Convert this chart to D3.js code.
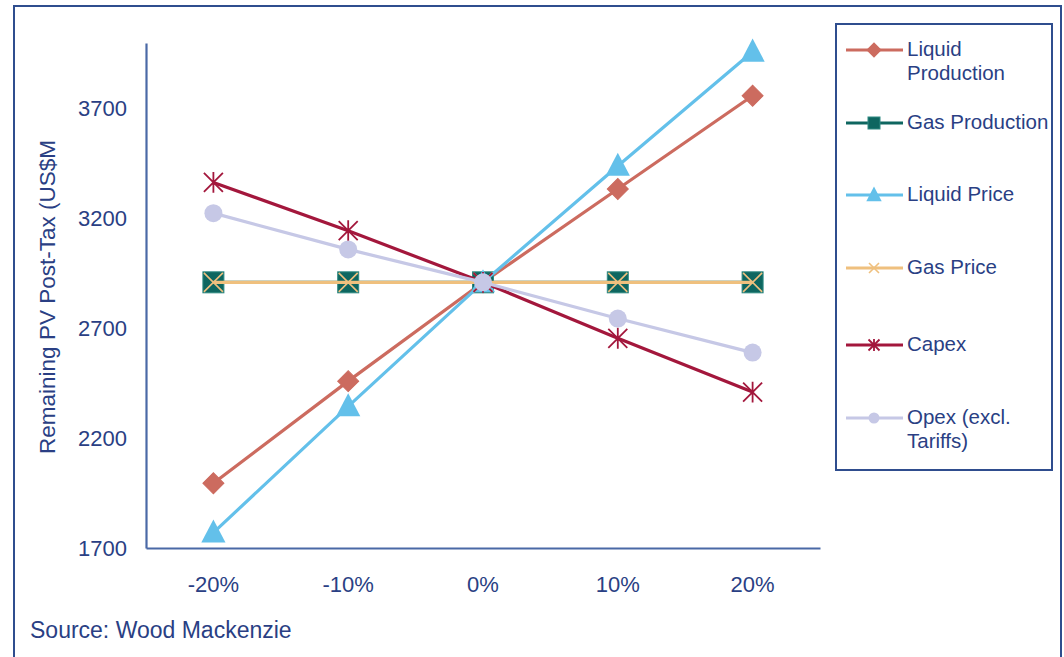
<!DOCTYPE html>
<html>
<head>
<meta charset="utf-8">
<script src="https://cdn.jsdelivr.net/npm/d3@7/dist/d3.min.js"></script>
<style>
  html, body { margin: 0; padding: 0; background: #ffffff; }
  svg { display: block; }
  text { font-family: "Liberation Sans", Arial, sans-serif; fill: #2a3f84; }
</style>
</head>
<body>
<svg id="chart" width="1064" height="657"></svg>
<script>
// Sensitivity cases along the x axis
const categories = ["-20%", "-10%", "0%", "10%", "20%"];

// Remaining PV post-tax (US$M) for each sensitivity
const liquidProduction = [1995, 2460, 2910, 3335, 3760];
const gasProduction    = [2910, 2910, 2910, 2910, 2910];
const liquidPrice      = [1770, 2345, 2910, 3440, 3960];
const gasPrice         = [2910, 2910, 2910, 2910, 2910];
const capex            = [3365, 3145, 2910, 2655, 2410];
const opex             = [3225, 3060, 2910, 2745, 2590];

const yTicks = [1700, 2200, 2700, 3200, 3700];

const seriesNames = ["Liquid Production", "Gas Production", "Liquid Price", "Gas Price", "Capex", "Opex (excl. Tariffs)"];
const legendLines = [["Liquid", "Production"], ["Gas Production"], ["Liquid Price"], ["Gas Price"], ["Capex"], ["Opex (excl.", "Tariffs)"]];

const series = [
  { name: seriesNames[0], values: liquidProduction, color: "#cc6b5f", marker: "diamond" },
  { name: seriesNames[1], values: gasProduction,    color: "#0e6660", marker: "square" },
  { name: seriesNames[2], values: liquidPrice,      color: "#63c0ea", marker: "triangle" },
  { name: seriesNames[3], values: gasPrice,         color: "#efc07e", marker: "x" },
  { name: seriesNames[4], values: capex,            color: "#a3173c", marker: "star" },
  { name: seriesNames[5], values: opex,             color: "#c6c8e6", marker: "circle" }
];

const svg = d3.select("#chart");
const frameColor = "#2f4d8e";
const axisColor = "#4a69a6";
const textFont = "Liberation Sans, Arial, sans-serif";

// outer frame
svg.append("rect")
  .attr("x", 14).attr("y", 6).attr("width", 1047).attr("height", 660)
  .attr("fill", "none").attr("stroke", frameColor).attr("stroke-width", 2);

const plot = { left: 146, right: 820, top: 43, bottom: 548 };

const x = d3.scaleBand().domain(categories).range([plot.left, plot.right]).padding(0);
const cx = c => x(c) + x.bandwidth() / 2;
const y = d3.scaleLinear().domain([1700, 4000]).range([plot.bottom, plot.top]);

// axes
const yAxis = d3.axisLeft(y).tickValues(yTicks).tickSize(0).tickPadding(19).tickFormat(d3.format("d"));
const gy = svg.append("g").attr("transform", `translate(${plot.left},0)`).call(yAxis);
gy.select(".domain").attr("stroke", axisColor).attr("stroke-width", 2.2);
gy.selectAll("text").attr("font-size", 22).attr("fill", "#2a3f84").style("font-family", textFont);

const xAxis = d3.axisBottom(x).tickSize(0).tickPadding(28);
const gx = svg.append("g").attr("transform", `translate(0,${plot.bottom})`).call(xAxis);
gx.select(".domain").attr("stroke", axisColor).attr("stroke-width", 2.2);
gx.selectAll("text").attr("font-size", 22).attr("fill", "#2a3f84").style("font-family", textFont);

// y axis title
svg.append("text")
  .attr("transform", "translate(55,297) rotate(-90)")
  .attr("text-anchor", "middle")
  .attr("font-size", 22.5)
  .text("Remaining PV Post-Tax (US$M");

// source note
svg.append("text")
  .attr("x", 30).attr("y", 638)
  .attr("font-size", 23)
  .text("Source: Wood Mackenzie");

// marker shapes
function drawMarker(g, type, color, s) {
  if (type === "diamond") {
    g.append("path").attr("d", d3.symbol(d3.symbolSquare, s * s / 2)()).attr("transform", "rotate(45)")
      .attr("fill", color).attr("stroke", color).attr("stroke-width", 1);
  } else if (type === "square") {
    g.append("rect").attr("x", -s / 2).attr("y", -s / 2).attr("width", s).attr("height", s)
      .attr("fill", color).attr("stroke", "#2f8a82").attr("stroke-width", 1);
  } else if (type === "triangle") {
    g.append("path").attr("d", `M0,${-s * 0.6}L${s * 0.55},${s * 0.45}L${-s * 0.55},${s * 0.45}Z`)
      .attr("fill", color);
  } else if (type === "x") {
    const h = s / 2;
    g.append("path").attr("d", `M${-h},${-h}L${h},${h}M${h},${-h}L${-h},${h}`)
      .attr("stroke", color).attr("stroke-width", 1.6).attr("fill", "none");
  } else if (type === "star") {
    const h = s / 2;
    g.append("path").attr("d", `M${-h},${-h}L${h},${h}M${h},${-h}L${-h},${h}M0,${-h * 1.1}L0,${h * 1.1}`)
      .attr("stroke", color).attr("stroke-width", 1.8).attr("fill", "none");
  } else if (type === "circle") {
    g.append("circle").attr("r", s / 2).attr("fill", color);
  }
}
// diamond size is its tip-to-tip width
const markerSize = { diamond: 21, square: 21, triangle: 22, x: 19, star: 19, circle: 18 };

const line = d3.line().x((d, i) => cx(categories[i])).y(d => y(d));

series.forEach(s => {
  const g = svg.append("g").attr("class", "series");
  g.append("path").datum(s.values).attr("d", line)
    .attr("fill", "none").attr("stroke", s.color).attr("stroke-width", 3.2);
  s.values.forEach((v, i) => {
    const m = g.append("g").attr("transform", `translate(${cx(categories[i])},${y(v)})`);
    drawMarker(m, s.marker, s.color, markerSize[s.marker]);
  });
});

// legend
const legend = svg.append("g");
legend.append("rect")
  .attr("x", 836).attr("y", 24).attr("width", 216).attr("height", 446)
  .attr("fill", "none").attr("stroke", frameColor).attr("stroke-width", 2);

const legendY = [50, 123, 195, 268, 345, 418];
const legendSize = { diamond: 14, square: 12, triangle: 14, x: 10, star: 11, circle: 11 };
series.forEach((s, i) => {
  const gy0 = legendY[i];
  legend.append("line").attr("x1", 846).attr("x2", 903).attr("y1", gy0).attr("y2", gy0)
    .attr("stroke", s.color).attr("stroke-width", 3);
  const m = legend.append("g").attr("transform", `translate(874,${gy0})`);
  drawMarker(m, s.marker, s.color, legendSize[s.marker]);
  const t = legend.append("text").attr("x", 907).attr("y", gy0 + 6).attr("font-size", 20.5);
  legendLines[i].forEach((ln, k) => {
    t.append("tspan").attr("x", 907).attr("dy", k === 0 ? 0 : 24).text(ln);
  });
});
</script>
</body>
</html>
